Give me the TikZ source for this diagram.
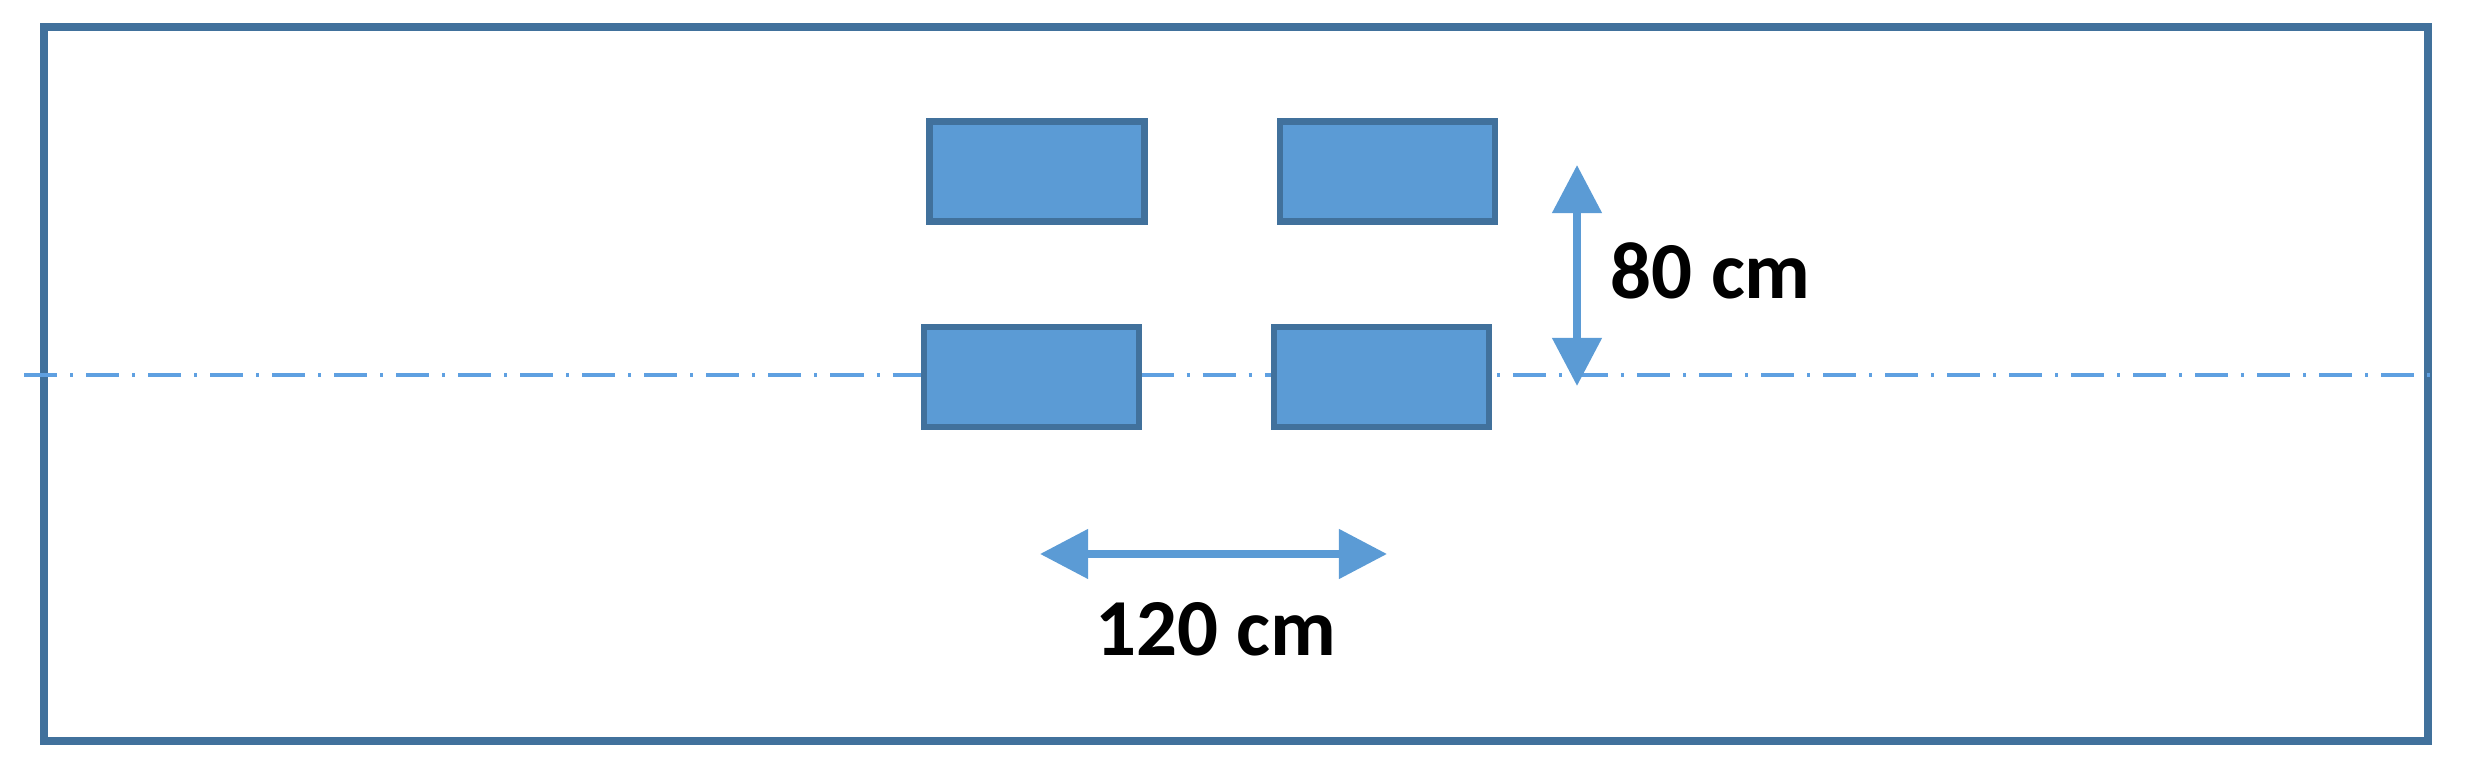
\documentclass[tikz,border=0pt]{standalone}
\usepackage{fontspec}
\setmainfont{Carlito}
\usetikzlibrary{arrows.meta}
\definecolor{boxfill}{HTML}{5B9BD5}
\definecolor{boxline}{HTML}{41719C}
\definecolor{axisline}{RGB}{95,160,225}
\tikzset{
  seat/.style={draw=boxline, fill=boxfill, line width=1.9pt, minimum width=2.15cm, minimum height=1.0cm, inner sep=0pt},
  dimarrow/.style={draw=boxfill, line width=2.2pt, {Triangle[length=0.48cm,width=0.48cm]}-{Triangle[length=0.48cm,width=0.48cm]}},
  dimlabel/.style={font=\fontsize{23}{27}\selectfont\bfseries, inner sep=0pt, text=black},
  axis/.style={draw=axisline, line width=1.4pt, dash pattern=on 0.33cm off 0.13cm on 0.03cm off 0.13cm}
}
\begin{document}
\begin{tikzpicture}[x=0.01cm, y=-0.01cm]
\useasboundingbox (0,0) rectangle (2470,771);
\draw[boxline, line width=2.3pt] (44,27) rectangle (2428,741);
\coordinate (axL) at (24,375);
\coordinate (axR) at (2440,375);
\draw[axis] (axL) -- (axR);
\node[seat] (b1) at (1037,171.5) {};
\node[seat] (b2) at (1387.5,171.5) {};
\node[seat] (b3) at (1031.5,377) {};
\node[seat] (b4) at (1381.5,377) {};
\coordinate (va) at (1577,165);
\coordinate (vb) at (1577,386);
\draw[dimarrow] (va) -- (vb);
\node[dimlabel, anchor=west] (l80) at (1610,271) {80 cm};
\coordinate (ha) at (1040,554);
\coordinate (hb) at (1387,554);
\draw[dimarrow] (ha) -- (hb);
\node[dimlabel] (l120) at (1216,629) {120 cm};
\end{tikzpicture}
\end{document}
